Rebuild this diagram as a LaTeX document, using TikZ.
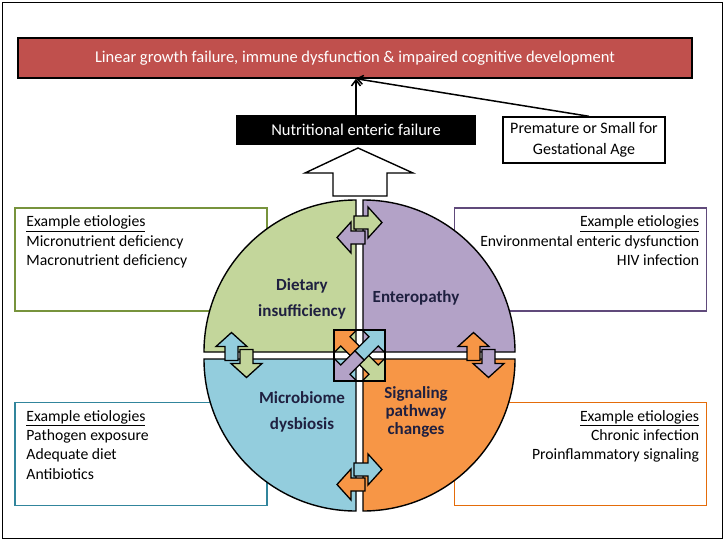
\documentclass[tikz,border=0pt]{standalone}
\usepackage{fontspec}
\setmainfont{Carlito}
\usepackage{tikz}
\usetikzlibrary{arrows.meta,positioning}
\definecolor{outred}{HTML}{C0504D}
\definecolor{dietgreen}{HTML}{C3D69B}
\definecolor{dietline}{HTML}{77933C}
\definecolor{enteropurple}{HTML}{B3A2C7}
\definecolor{enteroline}{HTML}{604A7B}
\definecolor{microblue}{HTML}{93CDDD}
\definecolor{microline}{HTML}{31859C}
\definecolor{signalorange}{HTML}{F79646}
\definecolor{signalline}{HTML}{E46C0A}
\definecolor{labeltext}{HTML}{1F2040}
\tikzset{
    frame line/.style={line width=1.5pt},
    blackline/.style={draw=black, line width=1.4pt, line join=miter},
    outcome box/.style={blackline, fill=outred, text=white, minimum width=674pt, minimum height=40pt, inner sep=0pt, font=\fontsize{16.5}{20}\selectfont},
    nef box/.style={blackline, fill=black, text=white, minimum width=238pt, minimum height=29pt, inner sep=0pt, font=\fontsize{16.5}{20}\selectfont},
    sga box/.style={blackline, fill=white, align=center, minimum width=162pt, minimum height=46pt, inner sep=0pt, font=\fontsize{16}{21}\selectfont},
    link/.style={->, >={Straight Barb[length=6pt,width=9pt]}, line width=1.5pt},
    etio box/.style={draw=#1, line width=1.5pt, fill=white, minimum width=252pt, minimum height=103pt, inner sep=0pt},
    etio text/.style={inner sep=0pt, align=#1},
    quad label/.style={text=labeltext, align=center, inner sep=0pt},
    quadrant/.style={blackline, fill=#1},
    block/.style={blackline, line width=1.3pt},
}
\tikzstyle{every node}=[font=\fontsize{15.7}{19.3}\selectfont]
% one small block arrow, pointing along +x
\newcommand{\blockarrow}[2]{%
    \draw[block, fill=#1, #2] (-14,-6.5) -- (0,-6.5) -- (0,-15.5) -- (14,0) -- (0,15.5) -- (0,6.5) -- (-14,6.5) -- cycle;}
% two opposite arrows between neighbouring quadrants
\newcommand{\arrowpair}[4]{%
    \begin{scope}[shift={#1}, rotate=#2]
        \blockarrow{#3}{shift={(8.5,-7.5)}}
        \blockarrow{#4}{shift={(-8.5,7.5)}, rotate=180}
    \end{scope}}
% half of a diagonal arrow in the centre square
\newcommand{\halfdiag}[2]{%
    \draw[block, fill=#1, rotate=#2] (0,-6.5) -- (20,-6.5) -- (20,-16) -- (36,0) -- (20,16) -- (20,6.5) -- (0,6.5) -- cycle;}

\begin{document}
\begin{tikzpicture}[x=1pt, y=-1pt]
        \useasboundingbox (0,0) rectangle (725,541);
        \draw[frame line] (2.5,2.5) rectangle (722.5,538.5);
        % etiology boxes
        \node[etio box=dietline] (dietbox) at (141,259.5) {};
        \node[etio box=enteroline] (enterobox) at (580.5,259.5) {};
        \node[etio box=microline] (microbox) at (141,454) {};
        \node[etio box=signalline] (signalbox) at (580.5,454) {};
        \node[etio text=left, below right=8.5pt and 12pt of dietbox.north west] (diettext)
            {\underline{Example etiologies}\\Micronutrient deficiency\\Macronutrient deficiency};
        \node[etio text=right, below left=8.5pt and 8pt of enterobox.north east] (enterotext)
            {\underline{Example etiologies}\\Environmental enteric dysfunction\\HIV infection};
        \node[etio text=left, below right=8.5pt and 12pt of microbox.north west] (microtext)
            {\underline{Example etiologies}\\Pathogen exposure\\Adequate diet\\Antibiotics};
        \node[etio text=right, below left=8.5pt and 8pt of signalbox.north east] (signaltext)
            {\underline{Example etiologies}\\Chronic infection\\Proinflammatory signaling};
        % top part
        \node[outcome box] (outcome) at (355,58) {Linear growth failure, immune dysfunction \& impaired cognitive development};
        \node[nef box] (nef) at (356,130) {Nutritional enteric failure};
        \node[sga box] (sga) at (584,140) {Premature or Small for\\Gestational Age};
        \coordinate (hit) at (nef.north |- outcome.south);
        \draw[link] (nef.north) -- (hit);
        \draw[link] ([xshift=5pt]sga.north) -- (hit);
        \draw[blackline, fill=white] (358,148) -- (413,173) -- (387,173) -- (387,196) -- (333,196) -- (333,173) -- (305,173) -- cycle;
        % the four quadrants
        \draw[quadrant=dietgreen] (356,352) -- (204,352) arc[start angle=180, end angle=90, radius=152pt] -- cycle;
        \draw[quadrant=enteropurple] (363,352) -- (363,200) arc[start angle=90, end angle=0, radius=152pt] -- cycle;
        \draw[quadrant=signalorange] (363,359) -- (515,359) arc[start angle=0, end angle=-90, radius=152pt] -- cycle;
        \draw[quadrant=microblue] (356,359) -- (356,511) arc[start angle=-90, end angle=-180, radius=152pt] -- cycle;
        \node[quad label, font=\bfseries\fontsize{17}{26}\selectfont] (diet) at (302,299) {Dietary\\insufficiency};
        \node[quad label, font=\bfseries\fontsize{17}{19}\selectfont] (entero) at (416,298) {Enteropathy};
        \node[quad label, font=\bfseries\fontsize{17}{26}\selectfont] (micro) at (302,412) {Microbiome\\dysbiosis};
        \node[quad label, font=\bfseries\fontsize{17}{18}\selectfont] (signal) at (416,412) {Signaling\\pathway\\changes};
        % arrows between the quadrants
        \arrowpair{(359.5,230)}{0}{dietgreen}{enteropurple}
        \arrowpair{(481,355)}{90}{signalorange}{enteropurple}
        \arrowpair{(359.5,477)}{0}{microblue}{signalorange}
        \arrowpair{(239,355)}{90}{microblue}{dietgreen}
        % centre square
        \begin{scope}[shift={(359.5,355.5)}]
            \halfdiag{signalorange}{135}
            \halfdiag{dietgreen}{-45}
            \halfdiag{microblue}{45}
            \halfdiag{enteropurple}{-135}
        \end{scope}
        \draw[blackline] (334,330) rectangle (385,381);
\end{tikzpicture}
\end{document}
